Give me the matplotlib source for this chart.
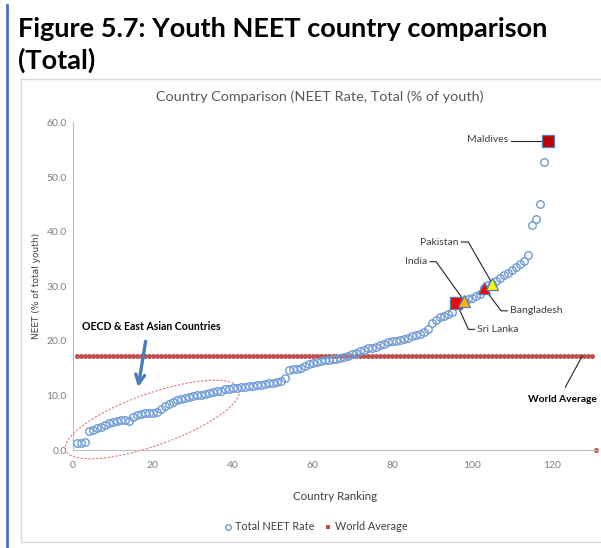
import numpy as np
import matplotlib
matplotlib.use("Agg")
import matplotlib.pyplot as plt
from matplotlib.lines import Line2D

# NEET rate (% of youth) by country ranking, ascending
neet_rate = [
    1.2, 1.3, 1.5, 3.4, 3.7, 4.0, 4.3, 4.6, 4.9, 5.1,
    5.3, 5.5, 5.5, 5.4, 6.0, 6.4, 6.6, 6.7, 6.8, 6.8,
    7.0, 7.5, 8.0, 8.4, 8.8, 9.2, 9.4, 9.6, 9.8, 9.9,
    10.0, 10.1, 10.3, 10.5, 10.7, 10.8, 10.9, 11.1, 11.2, 11.3,
    11.4, 11.5, 11.6, 11.7, 11.8, 11.9, 12.0, 12.1, 12.2, 12.3,
    12.4, 12.6, 13.2, 14.6, 14.8, 14.9, 15.0, 15.3, 15.8, 16.0,
    16.1, 16.3, 16.4, 16.5, 16.6, 16.7, 16.9, 17.0, 17.2, 17.5,
    17.8, 18.2, 18.4, 18.6, 18.7, 18.9, 19.2, 19.5, 19.7, 19.9,
    20.0, 20.2, 20.4, 20.6, 20.9, 21.1, 21.3, 21.6, 22.2, 23.2,
    23.8, 24.3, 24.6, 24.9, 25.2, 27.0, 27.2, 27.3, 27.6, 27.9,
    28.2, 28.6, 29.6, 30.2, 30.5, 31.0, 31.5, 32.0, 32.5, 33.0,
    33.5, 34.0, 34.6, 35.8, 41.2, 42.3, 45.0, 52.8, 56.6,
]
ranking = list(range(1, len(neet_rate) + 1))

# World average, repeated across the ranking axis (last entry empty -> 0)
world_avg_value = 17.3
world_avg = [world_avg_value] * 130 + [0.0]
world_rank = list(range(1, len(world_avg) + 1))

# Highlighted South Asian countries: rank, marker, face colour
highlight_names = ["Sri Lanka", "India", "Bangladesh", "Pakistan", "Maldives"]
highlight_rank = [96, 98, 103, 105, 119]
highlight_marker = ["s", "^", "^", "^", "s"]
highlight_color = ["#FF0000", "#FFB000", "#FF0000", "#FFFF00", "#C00000"]

x_ticks = [0, 20, 40, 60, 80, 100, 120]
y_ticks = [0, 10, 20, 30, 40, 50, 60]

W, H = 601, 548
fig = plt.figure(figsize=(W / 100, H / 100), dpi=100)
fig.patch.set_facecolor("white")

# page frame: blue rule on the left, grey chart box
fig.add_artist(Line2D([6.5 / W, 6.5 / W], [0, 1 - 5 / H], color="#4472C4", lw=2.0))
fig.add_artist(Line2D([21 / W, 21 / W], [1 - 542 / H, 1 - 79 / H], color="#D9D9D9", lw=1.0))
fig.add_artist(Line2D([21 / W, 1], [1 - 79 / H, 1 - 79 / H], color="#D9D9D9", lw=1.0))
fig.add_artist(Line2D([21 / W, 1], [1 - 542 / H, 1 - 542 / H], color="#D9D9D9", lw=1.0))

fig.text(18 / W, 1 - 29 / H, "Figure 5.7: Youth NEET country comparison",
         family="Lato", weight="bold", fontsize=19.5, va="center", ha="left", color="black")
fig.text(18 / W, 1 - 60 / H, "(Total)",
         family="Lato", weight="bold", fontsize=19.5, va="center", ha="left", color="black")

fig.text(320 / W, 1 - 97 / H, "Country Comparison (NEET Rate, Total (% of youth)",
         family="Lato", fontsize=10.4, ha="center", va="center", color="#595959")

ax = fig.add_axes([73 / W, 98 / H, 525 / W, (450 - 122.5) / H])
ax.set_xlim(0, 131.5)
ax.set_ylim(0, 60)

for s in ["top", "right"]:
    ax.spines[s].set_visible(False)
ax.spines["left"].set_color("#BFBFBF")
ax.spines["bottom"].set_color("#BFBFBF")
ax.tick_params(length=0, colors="#7F7F7F", labelsize=7.5)
ax.tick_params(axis="x", pad=8)
ax.tick_params(axis="y", pad=4.5)
ax.set_xticks(x_ticks)
ax.set_yticks(y_ticks)
ax.set_yticklabels([f"{v:.1f}" for v in y_ticks], family="Lato")
ax.set_xticklabels([str(v) for v in x_ticks], family="Lato")

ax.set_ylabel("NEET (% of total youth)", family="DejaVu Sans", fontsize=6.5,
              color="#404040", labelpad=4)
ax.set_xlabel("Country Ranking", family="Lato", fontsize=8.3, color="#404040", labelpad=15)

blue = "#6F9BD3"
ax.plot(world_rank, world_avg, ls="none", marker="o", ms=3.6, mew=0,
        color="#C0504D", clip_on=False, zorder=2)
ax.plot(ranking, neet_rate, ls="none", marker="o", ms=5.4, mfc="none", mec=blue,
        mew=1.0, zorder=3)

for name, r, m, c in zip(highlight_names, highlight_rank, highlight_marker, highlight_color):
    ax.plot([r], [neet_rate[r - 1]], ls="none", marker=m, ms=8.5, mfc=c,
            mec="#4F81BD", mew=0.9, zorder=4)

# callout labels with leader lines
label_kw = dict(family="Lato", fontsize=7.5, color="#404040", va="center")
lead_kw = dict(color="#262626", lw=0.8, zorder=3.5)
px = 1 / 3.99   # data units per pixel along x
callouts = {
    # name: (label x, label y, alignment, elbow dx in px)
    "Maldives": (109.0, 56.9, "right", None),
    "Pakistan": (96.5, 38.1, "right", 7),
    "India": (88.7, 34.5, "right", 6),
    "Bangladesh": (109.5, 25.5, "left", -6),
    "Sri Lanka": (101.3, 22.1, "left", -6),
}
for name, r in zip(highlight_names, highlight_rank):
    lx, ly, ha, elbow = callouts[name]
    ax.text(lx, ly, name, ha=ha, **label_kw)
    start = lx + (3 * px if ha == "right" else -3 * px)
    yv = neet_rate[r - 1]
    if elbow is None:
        ax.plot([start, r - 1.2], [ly - 0.3, yv], **lead_kw)
    else:
        ex = start + elbow * px
        ax.plot([start, ex, r], [ly, ly, yv], **lead_kw)

ax.text(122.5, 9.3, "World Average", family="Lato", weight="bold", fontsize=7.3,
        ha="center", va="center", color="black")
ax.plot([123.3, 127.6], [11.5, world_avg_value], **lead_kw)

ax.text(19.5, 22.7, "OECD & East Asian Countries", family="Lato", weight="bold",
        fontsize=7.6, ha="center", va="center", color="black")
ax.annotate("", xy=(16.2, 11.0), xytext=(18.3, 20.4),
            arrowprops=dict(arrowstyle="->", color="#4A7EBB", lw=2.4, mutation_scale=16))

# dashed ellipse around the low-NEET group, built in pixel space
fig.canvas.draw()
cx, cy = 152.5, H - 419.5
a, b, ang = 92.0, 26.0, np.deg2rad(19.5)
t = np.linspace(0, 2 * np.pi, 200)
ex_pix = cx + a * np.cos(t) * np.cos(ang) - b * np.sin(t) * np.sin(ang)
ey_pix = cy + a * np.cos(t) * np.sin(ang) + b * np.sin(t) * np.cos(ang)
ell = ax.transData.inverted().transform(np.column_stack([ex_pix, ey_pix]))
ax.plot(ell[:, 0], ell[:, 1], color="#E57373", lw=0.8, ls=(0, (2, 1.5)),
        clip_on=False, zorder=1.5)

handles = [
    Line2D([], [], ls="none", marker="o", ms=4, mfc="none", mec=blue, mew=1.0),
    Line2D([], [], ls="none", marker="s", ms=2.8, color="#C0504D", mew=0),
]
fig.legend(handles, ["Total NEET Rate", "World Average"], loc="center",
           bbox_to_anchor=(315 / W, 1 - 527 / H), ncol=2, frameon=False,
           prop=dict(family="Lato", size=7.8), labelcolor="#404040",
           handletextpad=0.1, columnspacing=0.8, handlelength=1.0)

fig.savefig("out.png", dpi=100, facecolor="white")
